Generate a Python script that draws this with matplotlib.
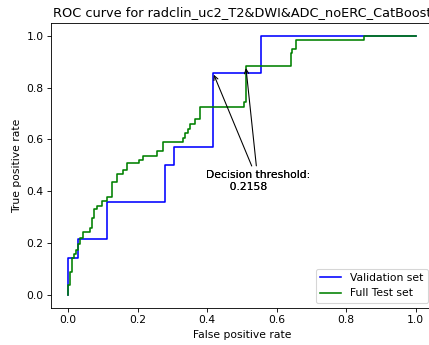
import matplotlib
matplotlib.use("Agg")
import matplotlib.pyplot as plt

TITLE = "ROC curve for radclin_uc2_T2&DWI&ADC_noERC_CatBoost"

# validation set ROC corners
val_fpr = [0.0, 0.0, 1/36, 1/36, 4/36, 4/36, 10/36, 10/36, 11/36, 11/36,
           15/36, 15/36, 20/36, 20/36, 1.0]
val_tpr = [0.0, 2/14, 2/14, 3/14, 3/14, 5/14, 5/14, 7/14, 7/14, 8/14,
           8/14, 12/14, 12/14, 1.0, 1.0]

# full test set ROC corners
test_fpr = [0.0, 0.0, 0.005, 0.005, 0.011, 0.011, 0.016, 0.016, 0.022, 0.022,
            0.028, 0.028, 0.034, 0.034, 0.041, 0.041, 0.062, 0.062, 0.068, 0.068,
            0.075, 0.075, 0.083, 0.083, 0.097, 0.097, 0.112, 0.112, 0.126, 0.126,
            0.139, 0.139, 0.157, 0.157, 0.168, 0.168, 0.204, 0.204, 0.216, 0.216,
            0.256, 0.256, 0.272, 0.272, 0.331, 0.331, 0.337, 0.337, 0.345, 0.345,
            0.351, 0.351, 0.366, 0.366, 0.380, 0.380, 0.506, 0.506, 0.511, 0.511,
            0.640, 0.640, 0.645, 0.645, 0.655, 0.655, 0.851, 0.851, 1.0]
test_tpr = [0.0, 0.039, 0.039, 0.09, 0.09, 0.141, 0.141, 0.158, 0.158, 0.174,
            0.174, 0.197, 0.197, 0.219, 0.219, 0.244, 0.244, 0.26, 0.26, 0.296,
            0.296, 0.332, 0.332, 0.344, 0.344, 0.363, 0.363, 0.377, 0.377, 0.435,
            0.435, 0.467, 0.467, 0.482, 0.482, 0.508, 0.508, 0.521, 0.521, 0.537,
            0.537, 0.555, 0.555, 0.589, 0.589, 0.606, 0.606, 0.623, 0.623, 0.641,
            0.641, 0.659, 0.659, 0.678, 0.678, 0.726, 0.726, 0.745, 0.745, 0.883,
            0.883, 0.932, 0.932, 0.949, 0.949, 0.985, 0.985, 1.0, 1.0]

threshold = 0.2158
val_point = (15/36, 12/14)
test_point = (0.511, 0.883)

DPI = 77
fig = plt.figure(figsize=(429/DPI, 345/DPI), dpi=DPI)
ax = fig.add_axes([50.9/429, 37/345, 382.1/429, 285.3/345])

ax.plot(val_fpr, val_tpr, color="blue", label="Validation set")
ax.plot(test_fpr, test_tpr, color="green", label="Full Test set")

label = "Decision threshold:\n       {:.4f}".format(threshold)
for pt in [val_point, test_point]:
    ax.annotate(label, xy=pt, xytext=(0.546, 0.44), ha="center", va="center",
                multialignment="left", arrowprops=dict(arrowstyle="->", color="black"))

ax.set_title(TITLE)
ax.set_xlabel("False positive rate")
ax.set_ylabel("True positive rate")
ax.legend(loc="lower right")

fig.savefig("out.png", dpi=DPI)
